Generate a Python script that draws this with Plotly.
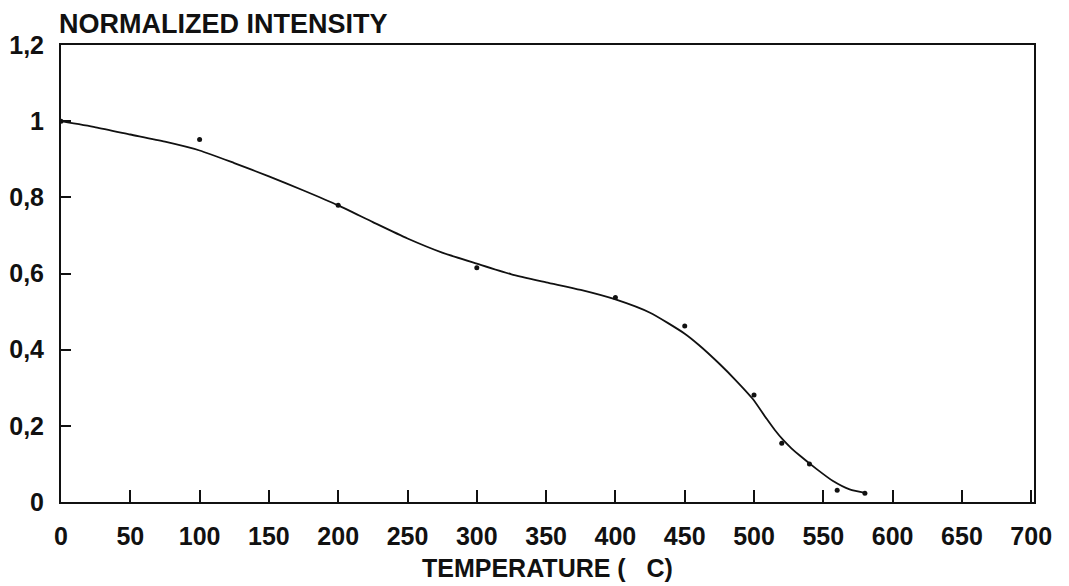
import plotly.graph_objects as go

# measured points
temp_pts = [0, 100, 200, 300, 400, 450, 500, 520, 540, 560, 580]
int_pts = [1.0, 0.952, 0.779, 0.615, 0.537, 0.462, 0.281, 0.154, 0.100, 0.031, 0.023]

# fitted curve
temp_fit = [0, 25, 50, 75, 100, 125, 150, 175, 200, 225, 250, 275, 300, 325, 350,
            375, 400, 425, 450, 460, 475, 487, 499, 509, 515, 521, 527, 533, 545,
            557, 569, 581]
int_fit = [1.0, 0.984, 0.965, 0.946, 0.923, 0.890, 0.855, 0.818, 0.779, 0.735, 0.692,
           0.655, 0.626, 0.598, 0.577, 0.557, 0.532, 0.497, 0.442, 0.413, 0.363, 0.319,
           0.271, 0.219, 0.189, 0.163, 0.141, 0.122, 0.087, 0.055, 0.033, 0.023]

x_ticks = list(range(0, 701, 50))
x_ticktext = [str(v) for v in x_ticks]
y_ticks = [0, 0.2, 0.4, 0.6, 0.8, 1.0, 1.2]
y_ticktext = ["0", "0,2", "0,4", "0,6", "0,8", "1", "1,2"]

FONT = "Liberation Sans"
INK = "#111111"

fig = go.Figure()
fig.add_trace(go.Scatter(x=temp_fit, y=int_fit, mode="lines",
                         line=dict(color=INK, width=1.8, shape="spline", smoothing=0.6),
                         showlegend=False, hoverinfo="skip"))
fig.add_trace(go.Scatter(x=temp_pts, y=int_pts, mode="markers",
                         marker=dict(color=INK, size=5),
                         showlegend=False))

tick_font = dict(family=FONT, size=25, color=INK, weight="bold")

fig.update_layout(
    width=1061, height=578,
    margin=dict(l=53, r=35, t=37, b=84),
    paper_bgcolor="white", plot_bgcolor="white",
    font=dict(family=FONT, color=INK, size=25),
    xaxis=dict(range=[0, 702], tickvals=x_ticks, ticktext=x_ticktext,
               ticks="inside", ticklen=12, tickwidth=1.5, tickcolor=INK,
               showline=True, linecolor=INK, linewidth=2, mirror=True,
               showgrid=False, zeroline=False, ticklabelstandoff=11,
               automargin=False, tickfont=tick_font),
    yaxis=dict(range=[0, 1.2], tickvals=y_ticks, ticktext=y_ticktext,
               ticks="inside", ticklen=10, tickwidth=1.5, tickcolor=INK,
               showline=True, linecolor=INK, linewidth=2, mirror=True,
               showgrid=False, zeroline=False, ticklabelstandoff=10,
               automargin=False, tickfont=tick_font),
    annotations=[
        dict(text="NORMALIZED INTENSITY", xref="paper", yref="paper",
             x=-0.004, y=1.045, xanchor="left", yanchor="middle", showarrow=False,
             font=dict(family=FONT, size=27, color=INK, weight="bold")),
        dict(text="TEMPERATURE (\u00a0\u00a0\u00a0C)", xref="paper", yref="paper",
             x=0.5, y=-0.145, xanchor="center", yanchor="middle", showarrow=False,
             font=dict(family=FONT, size=25, color=INK, weight="bold")),
    ],
)

fig.write_html("out.html")
